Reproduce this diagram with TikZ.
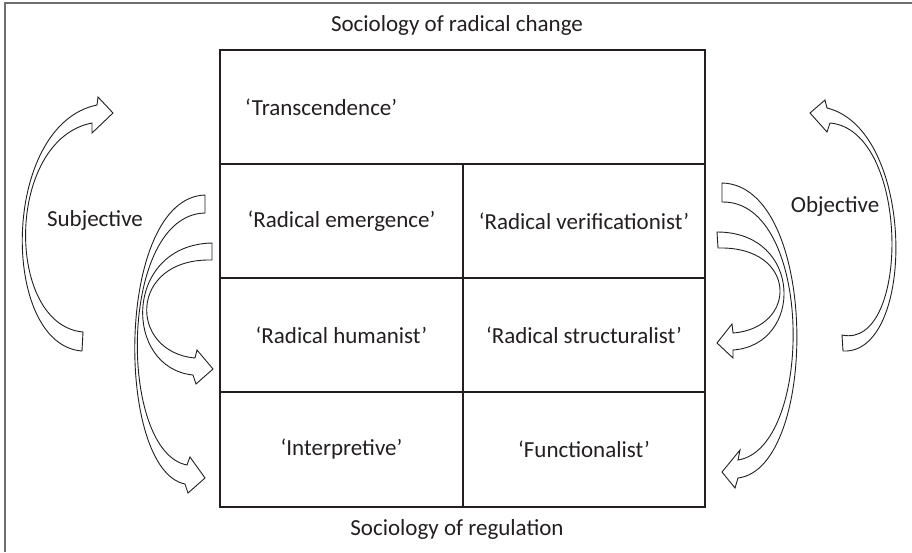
\documentclass[tikz,border=0pt]{standalone}
\usepackage{fontspec}
\setmainfont{Carlito}
\definecolor{ink}{HTML}{231F20}
\definecolor{framec}{HTML}{6E6E6E}
\begin{document}
\begin{tikzpicture}[x=1pt,y=-1pt,
  txt/.style={text=ink,font=\fontsize{23}{27}\selectfont,inner sep=0pt},
  cell/.style={draw=ink,line width=1.2pt,rectangle,inner sep=0pt,text=ink,font=\fontsize{23}{27}\selectfont},
  blockarrow/.style={draw=ink,line width=0.9pt,line join=miter}]
\useasboundingbox (0,0) rectangle (912,552);
% partial frame (top and left)
\draw[framec,line width=1.3pt] (5,552) -- (5,3) -- (912,3);
% grid cells
\node[cell,minimum width=485pt,minimum height=114pt] (trans) at (462.5,107) {};
\node[cell,minimum width=243pt,minimum height=114pt] (emerg) at (341.5,221) {‘Radical emergence’};
\node[cell,minimum width=242pt,minimum height=114pt] (verif) at (584,221) {‘Radical verificationist’};
\node[cell,minimum width=243pt,minimum height=114pt] (human) at (341.5,335) {‘Radical humanist’};
\node[cell,minimum width=242pt,minimum height=114pt] (struct) at (584,335) {‘Radical structuralist’};
\node[cell,minimum width=243pt,minimum height=115pt] (interp) at (341.5,449.5) {‘Interpretive’};
\node[cell,minimum width=242pt,minimum height=115pt] (funct) at (584,449.5) {‘Functionalist’};
\node[txt,anchor=west] (transtext) at (245,107) {‘Transcendence’};
% axis labels
\node[txt] (radical) at (457,25) {Sociology of radical change};
\node[txt] (regul) at (457,529) {Sociology of regulation};
\node[txt] (subj) at (95,220) {Subjective};
\node[txt] (obj) at (835,206) {Objective};
% left block arrows
\draw[blockarrow] (83,332) -- (82,351) .. controls (0,345) and (0,125) .. (97,105)
  -- (98,97) -- (113,113) -- (92,133) -- (92,123)
  .. controls (5,140) and (5,325) .. (83,332) -- cycle;
\draw[blockarrow] (205,195) -- (205,213) .. controls (118,215) and (118,452) .. (187,465)
  -- (190,457) -- (205,478) -- (188,493) -- (185,484)
  .. controls (115,470) and (115,198) .. (205,195) -- cycle;
\draw[blockarrow] (212,243) -- (212,260) .. controls (128,258) and (128,352) .. (195,358)
  -- (197,350) -- (213,369) -- (196,384) -- (193,375)
  .. controls (123,368) and (123,245) .. (212,243) -- cycle;
% right block arrows
\draw[blockarrow] (842,335) -- (843,351) .. controls (916,355) and (916,130) .. (827,108)
  -- (825,100) -- (810,113) -- (827,132) -- (830,123)
  .. controls (910.5,130) and (910.5,350) .. (842,335) -- cycle;
\draw[blockarrow] (722,183) -- (722,202) .. controls (814,200) and (814,448) .. (738,460)
  -- (740,450) -- (722,472) -- (735,488) -- (738,478)
  .. controls (819,468) and (819,185) .. (722,183) -- cycle;
\draw[blockarrow] (717,232) -- (718,248) .. controls (798,246) and (798,328) .. (733,333)
  -- (732,324) -- (717,343) -- (733,358) -- (733,350)
  .. controls (803.5,345) and (803.5,232) .. (717,232) -- cycle;
\end{tikzpicture}
\end{document}
